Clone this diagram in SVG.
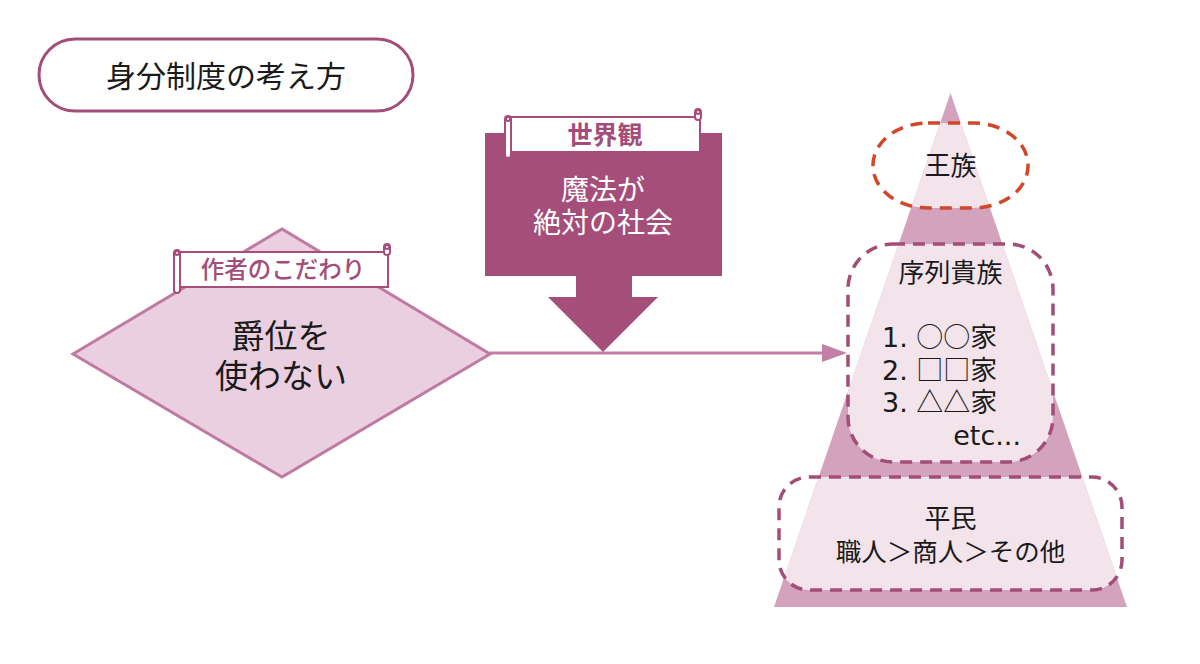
<svg xmlns="http://www.w3.org/2000/svg" width="1200" height="664" viewBox="0 0 1200 664">
<style>
text{font-family:"Noto Sans CJK JP","Noto Sans",sans-serif;}
.blk{fill:#1a1a1a;}
.scroll{fill:#ffffff;stroke:#a84d7b;stroke-width:2;}
.lbl{fill:#a34d78;font-size:23.5px;text-anchor:middle;font-weight:500;}
.dash{fill:none;stroke:#a34d78;stroke-width:3.5;stroke-dasharray:12 8;}
.light{fill:#f3e4ec;}
.lat{font-family:"DejaVu Sans",sans-serif;}
.sym{font-family:"Noto Sans CJK JP",sans-serif;fill:#1a1a1a;}
</style>
<defs>
<clipPath id="pyr"><polygon points="950.5,93 1127,607 774,607"/></clipPath>
</defs>
<rect width="1200" height="664" fill="#ffffff"/>

<g id="title">
<rect x="39" y="39" width="374" height="72" rx="36" fill="#ffffff" stroke="#a34d78" stroke-width="3"/>
<text x="226" y="87" font-size="30" text-anchor="middle" class="blk">身分制度の考え方</text>
</g>

<g id="connectors">
<line x1="490" y1="353" x2="826" y2="353" stroke="#c47fa5" stroke-width="3"/>
<path d="M822,344 L847,353 L822,362 Z" fill="#c47fa5"/>
</g>

<g id="diamond">
<polygon points="73,354 282,229 490,354 282,477" fill="#e9cfdf" stroke="#c07aa2" stroke-width="3" stroke-linejoin="miter"/>
<text x="281" y="348" font-size="33" text-anchor="middle" class="blk">爵位を</text>
<text x="281" y="388" font-size="33" text-anchor="middle" class="blk">使わない</text>
<g id="scroll1">
<rect x="180" y="252" width="208" height="35" class="scroll"/>
<rect x="174" y="250" width="6" height="43" rx="3" class="scroll"/>
<circle cx="177" cy="253" r="2" class="scroll"/>
<rect x="384" y="244" width="6" height="11" rx="3" class="scroll"/>
<circle cx="387" cy="247" r="2" class="scroll"/>
<text x="283" y="278" class="lbl">作者のこだわり</text>
</g>
</g>

<g id="worldview">
<rect x="485" y="133" width="237" height="143" fill="#a54e79"/>
<polygon points="576,276 632,276 632,297 658,297 603,352 548,297 576,297" fill="#a54e79"/>
<text x="603" y="200" font-size="28" text-anchor="middle" fill="#ffffff">魔法が</text>
<text x="603" y="233" font-size="28" text-anchor="middle" fill="#ffffff">絶対の社会</text>
<g id="scroll2">
<rect x="510" y="117" width="190" height="35" class="scroll"/>
<rect x="505" y="116" width="6" height="42" rx="3" class="scroll"/>
<circle cx="508" cy="119" r="2" class="scroll"/>
<rect x="695" y="109" width="6" height="11" rx="3" class="scroll"/>
<circle cx="698" cy="112" r="2" class="scroll"/>
<text x="605" y="144" class="lbl" style="font-weight:700;font-size:25px">世界観</text>
</g>
</g>

<g id="pyramid">
<polygon points="950.5,93 1127,607 774,607" fill="#d3a2bd"/>
<g clip-path="url(#pyr)">
<rect x="873" y="123" width="155" height="85" rx="55" ry="42" class="light"/>
<rect x="848" y="244" width="205" height="218" rx="45" class="light"/>
<rect x="779" y="477" width="343" height="113" rx="30" class="light"/>
</g>
</g>

<g id="royal">
<rect x="873" y="123" width="155" height="85" rx="55" ry="42" fill="none" stroke="#d0472a" stroke-width="3.5" stroke-dasharray="12 8"/>
<text x="950.5" y="175" font-size="26" text-anchor="middle" class="blk">王族</text>
</g>

<g id="nobles">
<rect x="848" y="244" width="205" height="218" rx="45" class="dash"/>
<text x="950.5" y="282" font-size="26" text-anchor="middle" class="blk">序列貴族</text>
<text x="882" y="347" font-size="27" class="blk"><tspan class="lat">1. </tspan><tspan class="sym">○○家</tspan></text>
<text x="882" y="379.5" font-size="27" class="blk"><tspan class="lat">2. </tspan><tspan class="sym">□□家</tspan></text>
<text x="882" y="412" font-size="27" class="blk"><tspan class="lat">3. </tspan><tspan class="sym">△△家</tspan></text>
<text x="1021" y="444.5" font-size="27" text-anchor="end" class="blk lat">etc...</text>
</g>

<g id="commoners">
<rect x="779" y="477" width="343" height="113" rx="30" class="dash"/>
<text x="950.5" y="528" font-size="26" text-anchor="middle" class="blk">平民</text>
<text x="950.5" y="561" font-size="25.5" text-anchor="middle" class="blk">職人＞商人＞その他</text>
</g>
</svg>
